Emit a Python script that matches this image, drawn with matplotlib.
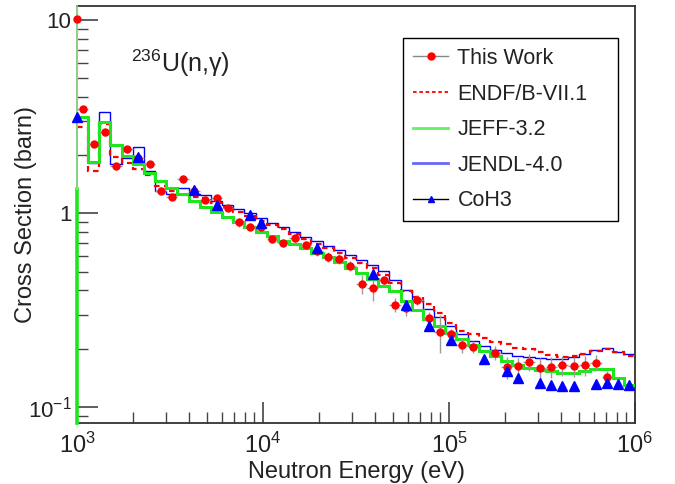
import numpy as np
import matplotlib.pyplot as plt
from matplotlib.lines import Line2D
from matplotlib.ticker import FixedLocator, FixedFormatter, LogLocator, NullFormatter

plt.rcParams['font.family'] = ['Liberation Sans', 'DejaVu Sans']
plt.rcParams['mathtext.fontset'] = 'custom'
plt.rcParams['mathtext.rm'] = 'Liberation Sans'
plt.rcParams['mathtext.default'] = 'regular'

# 50 log bins between 1 keV and 1 MeV
edges = np.logspace(3, 6, 51)
centers = np.sqrt(edges[:-1] * edges[1:])

# evaluated libraries, one value per bin (barn)
endf = [2.809, 1.663, 2.911, 1.949, 1.829, 1.693, 1.576, 1.391, 1.310, 1.245,
        1.220, 1.198, 1.132, 1.077, 1.012, 0.967, 0.917, 0.869, 0.830, 0.782,
        0.737, 0.697, 0.661, 0.626, 0.590, 0.556, 0.524, 0.482, 0.438, 0.398,
        0.368, 0.340, 0.306, 0.272, 0.247, 0.2377, 0.2266, 0.2177, 0.2111, 0.2026,
        0.1988, 0.1914, 0.1865, 0.1814, 0.1829, 0.188, 0.195, 0.1988, 0.1932, 0.1836]
jeff = [3.14, 1.836, 2.957, 2.253, 1.977, 1.807, 1.624, 1.468, 1.350, 1.260,
        1.163, 1.083, 1.012, 0.956, 0.898, 0.853, 0.804, 0.762, 0.722, 0.693,
        0.661, 0.622, 0.592, 0.558, 0.525, 0.495, 0.458, 0.423, 0.395, 0.353,
        0.316, 0.285, 0.262, 0.2405, 0.224, 0.2086, 0.195, 0.1836, 0.173, 0.165,
        0.1597, 0.156, 0.1527, 0.1505, 0.1505, 0.1536, 0.1567, 0.1567, 0.1418, 0.1304]
jendl = [3.14, 1.818, 3.33, 1.801, 1.942, 2.195, 1.663, 1.303, 1.260, 1.350,
         1.260, 1.245, 1.163, 1.105, 1.054, 1.0, 0.942, 0.888, 0.846, 0.804,
         0.758, 0.718, 0.681, 0.647, 0.609, 0.574, 0.541, 0.505, 0.454, 0.403,
         0.356, 0.320, 0.290, 0.262, 0.2377, 0.2187, 0.2056, 0.196, 0.1903, 0.1825,
         0.1814, 0.1799, 0.1765, 0.1765, 0.1814, 0.1873, 0.196, 0.2026, 0.1932, 0.188]

# measured points (bin index, value, relative error in %)
tw_bins = list(range(0, 36)) + list(range(37, 48))
tw_vals = [3.47, 2.286, 2.624, 1.751, 2.148, 1.942, 1.797, 1.310, 1.216, 1.507,
           1.31, 1.177, 1.196, 1.066, 0.898, 0.853, 0.848, 0.737, 0.703, 0.744,
           0.689, 0.641, 0.597, 0.583, 0.534, 0.433, 0.411, 0.452, 0.338, 0.323,
           0.356, 0.289, 0.244, 0.2385, 0.2086, 0.205,
           0.191, 0.161, 0.1636, 0.1703, 0.159, 0.161, 0.1643, 0.1624, 0.1643, 0.1696, 0.1434]
tw_err = [4, 4, 4, 4, 4, 4, 4, 4, 4, 5, 4, 4, 4, 4, 5, 5, 5, 5, 5, 5,
          5, 6, 6, 6, 6, 11, 14, 5, 8, 9, 6, 7, 22, 6, 9, 7,
          8, 13, 10, 10, 12, 12, 12, 12, 12, 10, 7]
tw_first = 10.13  # point drawn at 1 keV

# CoH3 calculation
coh_bins = [5, 10, 12, 15, 16, 21, 26, 29, 31, 33, 36, 38, 39, 41, 42, 43, 44, 46, 47, 48, 49]
coh_vals = [1.949, 1.322, 1.105, 0.979, 0.892, 0.661, 0.486, 0.338, 0.262, 0.222,
            0.1765, 0.1536, 0.1418, 0.1336, 0.130, 0.1284, 0.1284, 0.132, 0.1336, 0.132, 0.130]
coh_first = 3.14

ymin, ymax = 0.0826, 11.8
jeff_edge_split = 1.342

fig = plt.figure(figsize=(6.75, 4.84), dpi=100)
ax = fig.add_axes([77 / 675, 1 - 423 / 484, 558 / 675, 417 / 484])
ax.set_xscale('log')
ax.set_yscale('log')
ax.set_xlim(1e3, 1e6)
ax.set_ylim(ymin, ymax)

green = '#1ee61e'
ax.stairs(jendl, edges, baseline=None, color='#0000ff', lw=1.0, zorder=2)
ax.stairs(endf, edges, baseline=None, color='#ff0000', lw=1.6, ls=(0, (2.5, 2)), zorder=2.5)
ax.stairs(jeff, edges, baseline=None, color=green, lw=2.2, zorder=3)

# vertical edges at 1 keV
ax.plot([1e3, 1e3], [ymin, jeff_edge_split], color=green, lw=2.6, clip_on=False, zorder=3.5)
ax.plot([1e3, 1e3], [jeff_edge_split, ymax], color='#8ef08e', lw=1.2, clip_on=False, zorder=3.5)
ax.plot([1e3, 1e3], [jeff[0], ymax], color='#ff9c9c', lw=1.0, ls=(0, (2, 2)),
        clip_on=False, zorder=3.6)

# This Work with error bars
tw_x = centers[tw_bins]
lo = edges[np.array(tw_bins)]
hi = edges[np.array(tw_bins) + 1]
tw_v = np.array(tw_vals)
tw_e = tw_v * np.array(tw_err) / 100.0
ax.errorbar(tw_x, tw_v, xerr=[tw_x - lo, hi - tw_x], yerr=tw_e, fmt='none',
            ecolor='#9a9a9a', elinewidth=1.0, capsize=0, zorder=4)
ax.plot(tw_x, tw_v, 'o', color='red', ms=5, mec='red', zorder=5)
ax.plot([1e3], [tw_first], 'o', color='red', ms=5, clip_on=False, zorder=5)

# CoH3
ax.plot(centers[coh_bins], coh_vals, '^', color='blue', ms=6.5, zorder=6)
ax.plot([1e3], [coh_first], '^', color='blue', ms=6.5, clip_on=False, zorder=6)

# axes style
for s in ax.spines.values():
    s.set_color('#333333')
    s.set_linewidth(1.3)
ax.tick_params(which='both', direction='in', top=False, right=False, colors='#444444',
               labelcolor='#222222')
ax.tick_params(which='major', length=15, width=1.2)
ax.tick_params(which='minor', length=8, width=1.0)
ax.tick_params(axis='x', pad=7, labelsize=17)
ax.tick_params(axis='y', pad=4, labelsize=16)
ax.xaxis.set_major_locator(FixedLocator([1e3, 1e4, 1e5, 1e6]))
ax.xaxis.set_major_formatter(FixedFormatter(['$10^{3}$', '$10^{4}$', '$10^{5}$', '$10^{6}$']))
ax.xaxis.set_minor_locator(LogLocator(base=10, subs=range(2, 10)))
ax.xaxis.set_minor_formatter(NullFormatter())
ax.yaxis.set_major_locator(FixedLocator([0.1, 1, 10]))
ax.yaxis.set_major_formatter(FixedFormatter(['$10^{-1}$', '1', '10']))
ax.yaxis.set_minor_locator(LogLocator(base=10, subs=range(2, 10)))
ax.yaxis.set_minor_formatter(NullFormatter())

ax.set_xlabel('Neutron Energy (eV)', fontsize=17, color='#222222', labelpad=2)
ax.set_ylabel('Cross Section (barn)', fontsize=17, color='#222222')
ax.yaxis.set_label_coords(-0.072, 0.5)

fig.text(131 / 675, 1 - 63 / 484, '$^{236}$U(n,γ)', fontsize=18, color='#222222', va='center')

handles = [
    Line2D([], [], color='#888888', lw=1, marker='o', ms=5, mfc='red', mec='red'),
    Line2D([], [], color='red', lw=1.3, ls=(0, (2, 1.5))),
    Line2D([], [], color='#66ee66', lw=2),
    Line2D([], [], color='#6666ff', lw=2),
    Line2D([], [], color='black', lw=1, marker='^', ms=5, mfc='blue', mec='blue'),
]
labels = ['This Work', 'ENDF/B-VII.1', 'JEFF-3.2', 'JENDL-4.0', 'CoH3']
leg = ax.legend(handles, labels, loc='upper left',
                bbox_to_anchor=(403 / 675, 1 - 217 / 484, 215 / 675, 179 / 484),
                bbox_transform=fig.transFigure, mode='expand', fontsize=15.5,
                frameon=True, fancybox=False, edgecolor='black', framealpha=1,
                handlelength=1.65, handletextpad=0.42, labelspacing=0.68,
                borderpad=0.46, borderaxespad=0)
leg.get_frame().set_linewidth(1.0)
for t in leg.get_texts():
    t.set_color('#222222')

fig.savefig('out.png', dpi=100)
